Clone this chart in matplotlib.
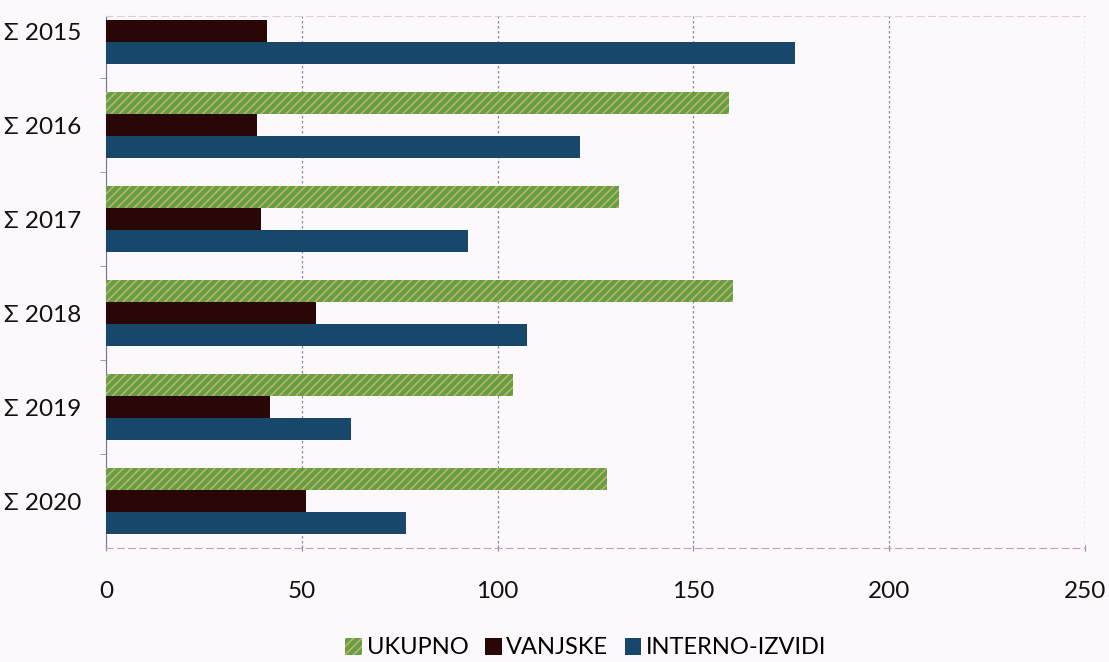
import numpy as np
import matplotlib.pyplot as plt

# data
years = ["Σ 2015", "Σ 2016", "Σ 2017", "Σ 2018", "Σ 2019", "Σ 2020"]
ukupno = [np.nan, 159, 131, 160, 104, 128]   # 2015 value not visible (cropped)
vanjske = [41, 38.5, 39.5, 53.5, 42, 51]
interno = [176, 121, 92.5, 107.5, 62.5, 76.5]

bg = "#fdf8fb"
plt.rcParams['font.family'] = ['Lato', 'DejaVu Sans']
plt.rcParams['hatch.linewidth'] = 1.2

fig = plt.figure(figsize=(11.09, 6.62), dpi=100, facecolor=bg)
ax = fig.add_axes([106/1109, 1 - 548/662, (1085-106)/1109, (548-16)/662])
ax.set_facecolor(bg)

y = np.arange(len(years))
h = 0.234
ax.barh(y - h, ukupno, height=h, color="#62a042", edgecolor="#c2b070",
        hatch="////", linewidth=0, label="UKUPNO", zorder=3)
ax.barh(y, vanjske, height=h, color="#2a0707", label="VANJSKE", zorder=3)
ax.barh(y + h, interno, height=h, color="#17476a", label="INTERNO-IZVIDI", zorder=3)

ax.set_xlim(0, 250)
ax.set_ylim(5.5, -0.16)
ax.set_xticks([0, 50, 100, 150, 200, 250])
ax.set_yticks(y)
ax.set_yticklabels(years, fontsize=17.5, color="#111111")
ax.set_yticks(np.arange(0.5, 5.5, 1), minor=True)
ax.tick_params(axis='y', which='major', length=0, pad=18)
ax.tick_params(axis='y', which='minor', length=4, color="#8a8aa0", direction='out')
ax.tick_params(axis='x', length=4, color="#8a8aa0", direction='inout',
               labelsize=17.5, labelcolor="#111111", pad=22)

ax.grid(axis='x', linestyle=(0, (2, 2)), color="#8888a8", linewidth=0.9, zorder=0)
ax.spines['right'].set_visible(False)
ax.spines['top'].set_linestyle((0, (6, 4)))
ax.spines['top'].set_color("#d8d0dc")
ax.spines['bottom'].set_linestyle((0, (6, 4)))
ax.spines['bottom'].set_color("#c89ab8")
ax.spines['left'].set_color("#6a7a9a")

leg = fig.legend(loc='center', bbox_to_anchor=(586/1109, 1 - 648/662), ncol=3,
                 frameon=False, fontsize=17, handlelength=0.7, handleheight=0.7,
                 handletextpad=0.2, columnspacing=0.7)

fig.savefig("out.png", dpi=100, facecolor=bg)
